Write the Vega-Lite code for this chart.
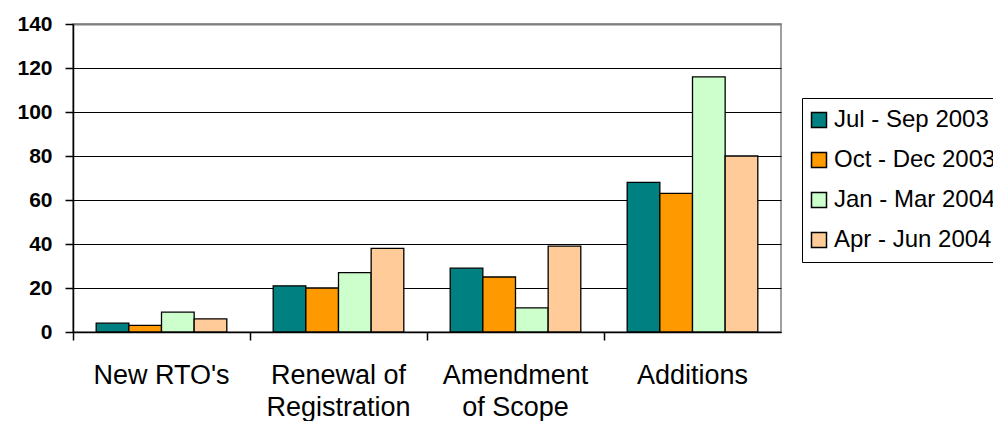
{
  "$schema": "https://vega.github.io/schema/vega-lite/v6.json",
  "autosize": {"type": "none"},
  "padding": {"left": 73, "top": 24, "right": 212, "bottom": 89},
  "width": 708,
  "height": 308,
  "background": "white",
  "config": {
    "font": "Liberation Sans",
    "view": {"stroke": "#808080", "strokeWidth": 1.5}
  },
  "data": {
    "values": [
      {"category": "New RTO's", "quarter": "Jul - Sep 2003", "value": 4},
      {"category": "New RTO's", "quarter": "Oct - Dec 2003", "value": 3},
      {"category": "New RTO's", "quarter": "Jan - Mar 2004", "value": 9},
      {"category": "New RTO's", "quarter": "Apr - Jun 2004", "value": 6},
      {"category": "Renewal of|Registration", "quarter": "Jul - Sep 2003", "value": 21},
      {"category": "Renewal of|Registration", "quarter": "Oct - Dec 2003", "value": 20},
      {"category": "Renewal of|Registration", "quarter": "Jan - Mar 2004", "value": 27},
      {"category": "Renewal of|Registration", "quarter": "Apr - Jun 2004", "value": 38},
      {"category": "Amendment|of Scope", "quarter": "Jul - Sep 2003", "value": 29},
      {"category": "Amendment|of Scope", "quarter": "Oct - Dec 2003", "value": 25},
      {"category": "Amendment|of Scope", "quarter": "Jan - Mar 2004", "value": 11},
      {"category": "Amendment|of Scope", "quarter": "Apr - Jun 2004", "value": 39},
      {"category": "Additions", "quarter": "Jul - Sep 2003", "value": 68},
      {"category": "Additions", "quarter": "Oct - Dec 2003", "value": 63},
      {"category": "Additions", "quarter": "Jan - Mar 2004", "value": 116},
      {"category": "Additions", "quarter": "Apr - Jun 2004", "value": 80}
    ]
  },
  "mark": {"type": "bar", "stroke": "black", "strokeWidth": 1.3},
  "encoding": {
    "x": {
      "field": "category",
      "type": "nominal",
      "sort": null,
      "scale": {"paddingInner": 0, "paddingOuter": 0},
      "axis": {
        "title": null,
        "labelAngle": 0,
        "bandPosition": 0,
        "labelExpr": "split(datum.value, '|')",
        "labelFontSize": 27,
        "labelColor": "black",
        "labelLineHeight": 32,
        "labelPadding": 22,
        "labelBaseline": "top",
        "tickSize": 8,
        "tickColor": "black",
        "tickWidth": 1.5,
        "domainColor": "black",
        "domainWidth": 1.5,
        "grid": false
      }
    },
    "xOffset": {
      "field": "quarter",
      "type": "nominal",
      "scale": {"domain": ["Jul - Sep 2003", "Oct - Dec 2003", "Jan - Mar 2004", "Apr - Jun 2004"], "paddingInner": 0, "paddingOuter": 0.71}
    },
    "y": {
      "field": "value",
      "type": "quantitative",
      "scale": {"domain": [0, 140], "nice": false},
      "axis": {
        "title": null,
        "values": [0, 20, 40, 60, 80, 100, 120, 140],
        "labelFontSize": 21,
        "labelFontWeight": "bold",
        "labelColor": "black",
        "labelPadding": 13,
        "tickSize": 8,
        "tickColor": "black",
        "tickWidth": 1.5,
        "domainColor": "black",
        "domainWidth": 1.5,
        "grid": true,
        "gridColor": {"condition": {"test": "datum.value == 140", "value": "#808080"}, "value": "black"},
        "gridWidth": {"condition": {"test": "datum.value == 140", "value": 2}, "value": 1.2},
        "gridOpacity": 1
      }
    },
    "fill": {
      "field": "quarter",
      "type": "nominal",
      "scale": {
        "domain": ["Jul - Sep 2003", "Oct - Dec 2003", "Jan - Mar 2004", "Apr - Jun 2004"],
        "range": ["#008080", "#FF9900", "#CCFFCC", "#FFCC99"]
      },
      "legend": {
        "title": null,
        "orient": "none",
        "legendX": 729,
        "legendY": 74,
        "padding": 10,
        "strokeColor": "black",
        "fillColor": "white",
        "symbolType": "square",
        "symbolSize": 225,
        "symbolOffset": -5,
        "symbolStrokeColor": "black",
        "symbolStrokeWidth": 1.5,
        "labelFontSize": 24,
        "labelColor": "black",
        "labelOffset": 3,
        "rowPadding": 16,
        "labelLimit": 300
      }
    }
  }
}
